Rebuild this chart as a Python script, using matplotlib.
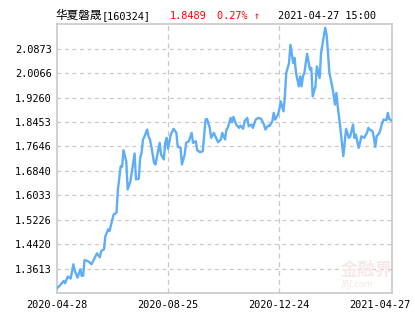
import matplotlib
matplotlib.use("Agg")
import matplotlib.pyplot as plt
import matplotlib.transforms as mtransforms

# ---- data ----
fund_name = "华夏磐晟"
fund_code = "[160324]"
last_nav = "1.8489"
change_pct = "0.27% ↑"
timestamp = "2021-04-27 15:00"

day_index = [0, 2, 5, 6, 8, 10, 12, 13, 15, 17, 18, 19, 20, 23, 25, 28, 29, 31, 32, 34,
             35, 37, 38, 40, 41, 43, 44, 46, 47, 48, 50, 51, 53, 55, 56, 57, 59, 60, 61, 62,
             63, 65, 66, 67, 68, 70, 71, 73, 74, 75, 77, 78, 79, 80, 82, 84, 86, 87, 89, 90,
             92, 93, 95, 97, 98, 100, 101, 103, 105, 107, 108, 110, 111, 113, 114, 116, 118, 119, 121, 122,
             123, 125, 126, 127, 129, 131, 132, 134, 135, 137, 138, 140, 141, 143, 145, 147, 149, 150, 152, 153,
             155, 156, 157, 159, 160, 161, 163, 164, 165, 167, 168, 170, 171, 172, 174, 175, 176, 177, 178, 180,
             182, 183, 184, 186, 187, 189, 190, 192, 193, 194, 195, 196, 198, 199, 200, 201, 202, 204, 205, 206,
             207, 208, 210, 211, 213, 214, 215, 217, 218, 219, 221, 223, 224, 225, 227, 228, 229, 230, 232, 234,
             235, 237, 238, 239, 241]
nav = [1.2954, 1.3040, 1.3204, 1.3129, 1.3349, 1.3283, 1.3755, 1.3534, 1.3316, 1.3590,
       1.3369, 1.3380, 1.3896, 1.3844, 1.3755, 1.4028, 1.4117, 1.3985, 1.4193, 1.4249,
       1.4687, 1.4908, 1.4852, 1.5238, 1.5402, 1.5458, 1.6226, 1.6994, 1.6974, 1.7522,
       1.7159, 1.6226, 1.6500, 1.7106, 1.7413, 1.6556, 1.6579, 1.7271, 1.7436, 1.7874,
       1.7963, 1.8204, 1.7983, 1.7874, 1.7653, 1.7106, 1.7050, 1.7522, 1.7765, 1.7380,
       1.7215, 1.7765, 1.7930, 1.7568, 1.8039, 1.8227, 1.8095, 1.7634, 1.7601, 1.7050,
       1.7380, 1.7765, 1.7818, 1.8095, 1.7765, 1.7818, 1.7522, 1.7456, 1.7489, 1.8533,
       1.8556, 1.8260, 1.7930, 1.8095, 1.7983, 1.7785, 1.7874, 1.8095, 1.7874, 1.8204,
       1.8260, 1.8589, 1.8444, 1.8622, 1.8368, 1.8260, 1.8335, 1.8227, 1.8477, 1.8589,
       1.8312, 1.8368, 1.8260, 1.8533, 1.8589, 1.8556, 1.8368, 1.8204, 1.8335, 1.8320,
       1.8477, 1.8754, 1.8533, 1.8698, 1.8863, 1.9136, 1.8807, 1.9301, 2.0072, 2.0402,
       2.1005, 2.0402, 2.0566, 2.0072, 1.9631, 1.9960, 1.9631, 1.9960, 2.0072, 2.0708,
       2.0181, 2.0237, 1.9301, 1.9631, 2.0290, 1.9907, 2.0731, 2.1279, 2.1565, 2.1335,
       2.0731, 2.0072, 1.9631, 1.9357, 1.9028, 1.9413, 1.8972, 1.8204, 1.7765, 1.7324,
       1.7765, 1.8227, 1.7930, 1.7983, 1.8368, 1.7930, 1.8039, 1.7601, 1.7765, 1.7983,
       1.7930, 1.8095, 1.8260, 1.8204, 1.8148, 1.7930, 1.7634, 1.7983, 1.8095, 1.8424,
       1.8533, 1.8510, 1.8754, 1.8556, 1.8489]

y_ticks = [1.3613, 1.4420, 1.5226, 1.6033, 1.6840, 1.7646, 1.8453, 1.9260, 2.0066, 2.0873]
y_limits = [1.2806, 2.1680]
x_tick_index = [0, 80, 160, 241]
x_tick_labels = ["2020-04-28", "2020-08-25", "2020-12-24", "2021-04-27"]

# ---- figure ----
W, H = 415, 330
fig = plt.figure(figsize=(W / 100, H / 100), dpi=100)
ax = fig.add_axes([56.7 / W, (H - 293) / H, (392 - 56.7) / W, (293 - 24.3) / H])

grid_c = "#c8c8c8"
ax.plot(day_index, nav, color="#5eadf7", lw=1.7, solid_joinstyle="round", zorder=3)

ax.set_xlim(0, 241)
ax.set_ylim(*y_limits)
ax.set_yticks(y_ticks)
ax.set_yticklabels([f"{v:.4f}" for v in y_ticks])
ax.set_xticks(x_tick_index)
ax.set_xticklabels(x_tick_labels)

for v in y_ticks:
    ax.axhline(v, color=grid_c, lw=0.9, ls=(0, (3, 3)), zorder=1)
for xi in x_tick_index[1:3]:
    ax.axvline(xi, color=grid_c, lw=0.9, ls=(0, (4, 3)), zorder=1)

for s in ax.spines.values():
    s.set_color(grid_c)
    s.set_linewidth(1.2)

ax.tick_params(length=0, labelsize=7.4, pad=3.5, colors="black")
ax.tick_params(axis="x", pad=5)
for lab in ax.get_xticklabels() + ax.get_yticklabels():
    lab.set_fontfamily("DejaVu Sans Mono")

# shift last x label left so it fits inside the image
last = ax.get_xticklabels()[-1]
last.set_transform(last.get_transform() + mtransforms.ScaledTranslation(-12 / 100, 0, fig.dpi_scale_trans))

# watermark
ax.text(0.925, 0.085, "金融界", transform=ax.transAxes, ha="center", va="center",
        fontsize=12.5, color="#f8e9e9", family=["Noto Sans CJK SC"], fontweight="bold", zorder=2)
ax.text(0.895, 0.03, "JRJ.com", transform=ax.transAxes, ha="center", va="center",
        fontsize=6, color="#f5e4e4", style="italic", zorder=2)

# header
def px_text(x, s, color, fam, size):
    fig.text(x / W, (H - 15.7) / H, s, ha="left", va="center", color=color,
             family=fam, fontsize=size)

px_text(55, fund_name, "black", ["Noto Sans CJK SC"], 8.4)
px_text(101.5, fund_code, "black", ["DejaVu Sans Mono"], 7.4)
px_text(170, last_nav, "#ff0000", ["DejaVu Sans Mono"], 7.4)
px_text(217.3, change_pct, "#ff0000", ["DejaVu Sans Mono", "DejaVu Sans"], 7.4)
px_text(277.7, timestamp, "black", ["DejaVu Sans Mono"], 7.4)

fig.savefig("out.png", dpi=100)
